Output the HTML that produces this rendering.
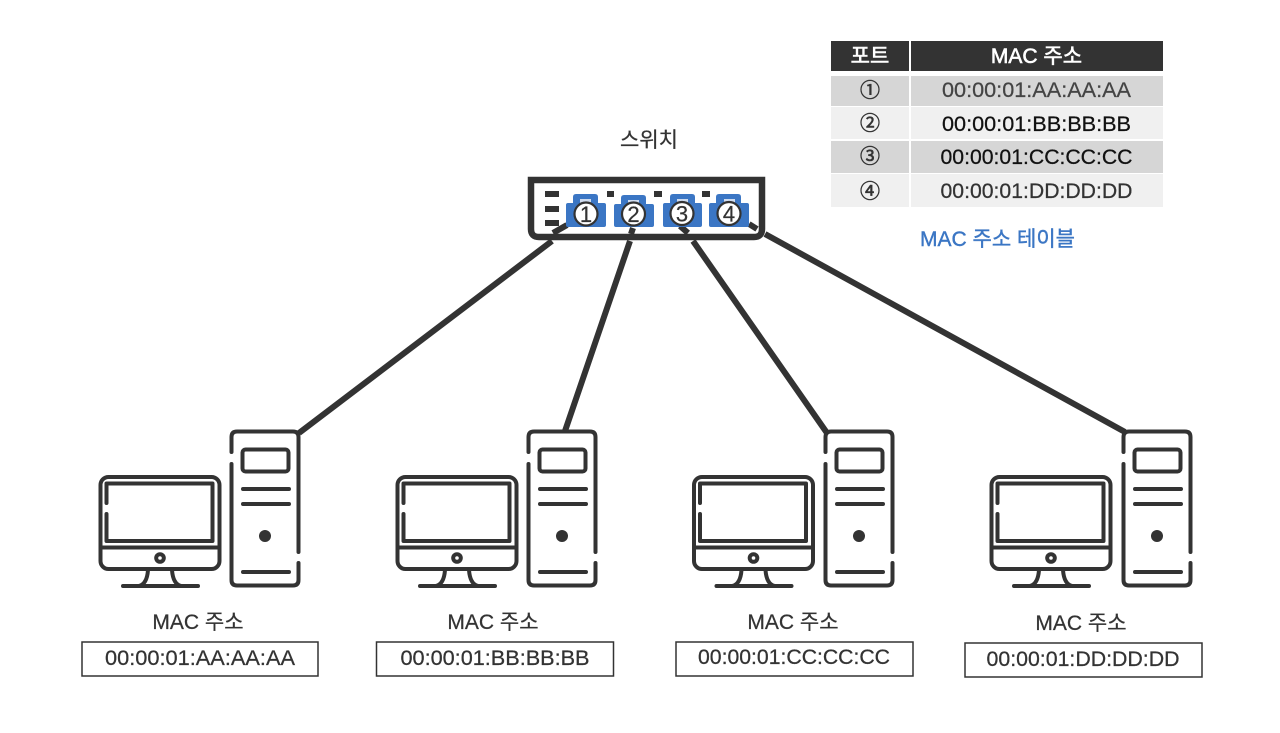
<!DOCTYPE html>
<html lang="ko">
<head>
<meta charset="utf-8">
<title>MAC 주소 테이블</title>
<style>
html,body{margin:0;padding:0;background:#fff;}
svg{display:block;}
text{font-family:"Liberation Sans","Noto Sans CJK KR",sans-serif;fill:#333;text-anchor:middle;stroke:currentColor;stroke-width:.25px;}
</style>
</head>
<body>
<svg width="1280" height="733" viewBox="0 0 1280 733" xmlns="http://www.w3.org/2000/svg" color="#333">
<defs>
<g id="tower" fill="none" stroke="#333" stroke-width="4" stroke-linecap="round" stroke-linejoin="round">
  <path d="M231.500 452V437Q231.500 431.500 237 431.500H293Q298.500 431.500 298.500 437V552"/>
  <path d="M298.500 563V580Q298.500 585.500 293 585.500H237Q231.500 585.500 231.500 580V464"/>
  <rect x="242.500" y="449.500" width="46" height="22" rx="3"/>
  <path d="M243 489H289M243 504H289M243 572H289"/>
  <circle cx="265" cy="536" r="6" fill="#333" stroke="none"/>
</g>
<g id="monitor" fill="none" stroke="#333" stroke-width="4" stroke-linecap="round" stroke-linejoin="round">
  <rect x="100.500" y="477" width="119" height="92" rx="8"/>
  <path d="M106.500 503V483.500H212.500V541H106.500V514"/>
  <path d="M101 547.500H219"/>
  <circle cx="160" cy="558" r="3.800"/>
  <path d="M148 570Q147 584 139 586M172 570Q173 584 181 586M123 586H198"/>
</g>
</defs>

<rect width="1280" height="733" fill="#fff"/>

<!-- connectors -->
<g stroke="#333" stroke-width="6" fill="none">
  <path d="M552 241L299 433M553 233L567 225"/>
  <path d="M630 241L565 431M633 228L631 234"/>
  <path d="M693 241L827 433M680 226L688 233"/>
  <path d="M765 234L1125 432M749 224L757 229"/>
</g>

<!-- switch -->
<path d="M531 180H762V229Q762 237 754 237H539Q531 237 531 229Z" fill="none" stroke="#333" stroke-width="6.500"/>
<g fill="#333">
  <rect x="545" y="191" width="14" height="6"/>
  <rect x="545" y="206" width="14" height="6"/>
  <rect x="545" y="220" width="14" height="6"/>
  <rect x="607" y="191" width="7" height="6"/>
  <rect x="654" y="191" width="8" height="6"/>
  <rect x="702" y="191" width="8" height="6"/>
</g>
<g fill="#3b76c4">
  <path d="M566 205Q566 203 568 203H573V197Q573 194 576 194H595Q598 194 598 197V203H604Q606 203 606 205V225Q606 227 604 227H568Q566 227 566 225Z"/>
  <path d="M614 206Q614 204 616 204H621V198Q621 195 624 195H643Q646 195 646 198V204H652Q654 204 654 206V225Q654 227 652 227H616Q614 227 614 225Z"/>
  <path d="M663 205Q663 203 665 203H670V197Q670 194 673 194H692Q695 194 695 197V203H700Q702 203 702 205V225Q702 227 700 227H665Q663 227 663 225Z"/>
  <path d="M709 205Q709 203 711 203H716V197Q716 194 719 194H738Q741 194 741 197V203H747Q749 203 749 205V225Q749 227 747 227H711Q709 227 709 225Z"/>
</g>
<g fill="#cfdcf0">
  <rect x="580" y="199" width="11" height="5"/>
  <rect x="628" y="200" width="11" height="5"/>
  <rect x="677" y="199" width="11" height="5"/>
  <rect x="724" y="199" width="11" height="5"/>
</g>
<g fill="#fff" stroke="#333" stroke-width="2.200">
  <circle cx="586" cy="214" r="11.500"/>
  <circle cx="633.500" cy="214" r="11.500"/>
  <circle cx="682" cy="213.500" r="11.500"/>
  <circle cx="729" cy="213.500" r="11.500"/>
</g>
<g font-size="22">
  <text x="586" y="222">1</text>
  <text x="633.500" y="222">2</text>
  <text x="682" y="221.500">3</text>
  <text x="729" y="221.500">4</text>
</g>
<text x="649" y="147" font-size="21">스위치</text>

<!-- computers -->
<use href="#tower"/><use href="#monitor"/>
<use href="#tower" x="297"/><use href="#monitor" x="297"/>
<use href="#tower" x="594"/><use href="#monitor" x="593.500"/>
<use href="#tower" x="892"/><use href="#monitor" x="891"/>

<!-- bottom labels -->
<g font-size="21">
  <text x="198" y="629">MAC 주소</text>
  <text x="493" y="629">MAC 주소</text>
  <text x="793" y="629">MAC 주소</text>
  <text x="1081" y="630">MAC 주소</text>
</g>
<g fill="#fff" stroke="#333" stroke-width="1.500">
  <rect x="82" y="642" width="236" height="34"/>
  <rect x="376.500" y="642" width="237" height="34"/>
  <rect x="676" y="642" width="237" height="34"/>
  <rect x="965" y="643" width="237" height="34"/>
</g>
<g font-size="21">
  <text x="200" y="665" textLength="190" lengthAdjust="spacingAndGlyphs">00:00:01:AA:AA:AA</text>
  <text x="495" y="665" textLength="189" lengthAdjust="spacingAndGlyphs">00:00:01:BB:BB:BB</text>
  <text x="794" y="664" textLength="192" lengthAdjust="spacingAndGlyphs">00:00:01:CC:CC:CC</text>
  <text x="1083" y="666" textLength="193" lengthAdjust="spacingAndGlyphs">00:00:01:DD:DD:DD</text>
</g>

<!-- table -->
<rect x="831" y="41" width="78" height="30" fill="#333"/>
<rect x="911" y="41" width="252" height="30" fill="#333"/>
<rect x="831" y="76" width="78" height="30" fill="#d6d6d6"/>
<rect x="911" y="76" width="252" height="30" fill="#d6d6d6"/>
<rect x="831" y="107" width="78" height="32" fill="#f0f0f0"/>
<rect x="911" y="107" width="252" height="32" fill="#f0f0f0"/>
<rect x="831" y="141" width="78" height="32" fill="#d6d6d6"/>
<rect x="911" y="141" width="252" height="32" fill="#d6d6d6"/>
<rect x="831" y="174" width="78" height="33" fill="#f0f0f0"/>
<rect x="911" y="174" width="252" height="33" fill="#f0f0f0"/>

<g font-size="21" color="#fff">
  <text x="870" y="63" style="fill:#fff;stroke-width:.6px">포트</text>
  <text x="1036.500" y="63" style="fill:#fff;stroke-width:.6px">MAC 주소</text>
</g>
<g font-size="20">
  <text x="870" y="97" style="stroke-width:.6px">①</text>
  <text x="870" y="130" style="stroke-width:.6px">②</text>
  <text x="870" y="163" style="stroke-width:.6px">③</text>
  <text x="870" y="198" style="stroke-width:.6px">④</text>
</g>
<g font-size="21">
  <text x="1036.500" y="97" textLength="189" lengthAdjust="spacingAndGlyphs" color="#444" style="fill:#444">00:00:01:AA:AA:AA</text>
  <text x="1036.500" y="131" textLength="189" lengthAdjust="spacingAndGlyphs" color="#111" style="fill:#111">00:00:01:BB:BB:BB</text>
  <text x="1036.500" y="164" textLength="192" lengthAdjust="spacingAndGlyphs" color="#111" style="fill:#111">00:00:01:CC:CC:CC</text>
  <text x="1036.500" y="198" textLength="192" lengthAdjust="spacingAndGlyphs" color="#333" style="fill:#333">00:00:01:DD:DD:DD</text>
</g>
<text x="997.500" y="246" font-size="21" color="#3b76c4" style="fill:#3b76c4;stroke-width:.4px">MAC 주소 테이블</text>
</svg>
</body>
</html>
